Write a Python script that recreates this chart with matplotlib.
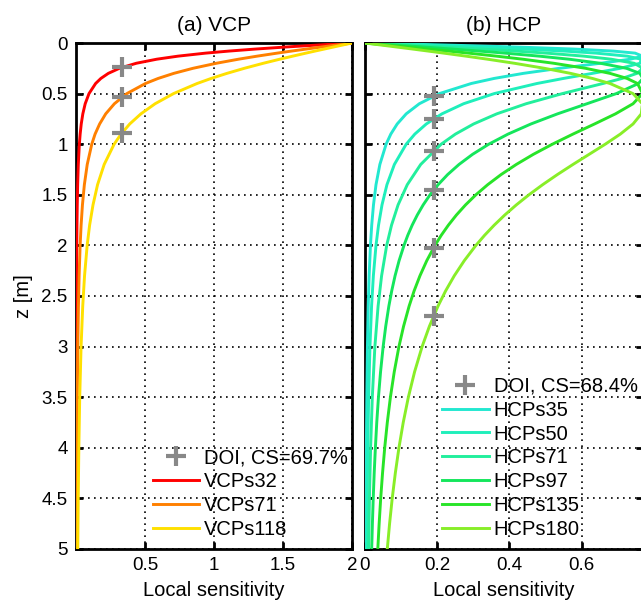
import matplotlib
matplotlib.use('Agg')
import matplotlib.pyplot as plt
import numpy as np

# depth grid (m)
z = [0, 0.02, 0.04, 0.06, 0.08, 0.1, 0.13, 0.16, 0.2, 0.25, 0.3, 0.35, 0.4, 0.5, 0.6, 0.7,
     0.8, 0.9, 1.0, 1.2, 1.4, 1.6, 1.8, 2.0, 2.3, 2.6, 3.0, 3.5, 4.0, 4.5, 5.0]
# finer depth grid for the wide HCP curves
z_fine = [0, 0.02, 0.04, 0.06, 0.08, 0.1, 0.13, 0.16, 0.2, 0.25, 0.3, 0.35, 0.4, 0.5, 0.6, 0.7,
          0.8, 0.9, 1.0, 1.1, 1.2, 1.3, 1.4, 1.5, 1.6, 1.7, 1.8, 1.9, 2.0, 2.15, 2.3, 2.45,
          2.6, 2.8, 3.0, 3.25, 3.5, 3.75, 4.0, 4.25, 4.5, 4.75, 5.0]

# (a) VCP local sensitivity
vcp_names = ['VCPs32', 'VCPs71', 'VCPs118']
vcp_s32 = [2.0, 1.752, 1.515, 1.298, 1.106, 0.940, 0.739, 0.586, 0.438, 0.315, 0.235, 0.181, 0.143,
           0.095, 0.0675, 0.0503, 0.0388, 0.0309, 0.0251, 0.0175, 0.0129, 0.0099, 0.0078, 0.0064,
           0.00484, 0.00379, 0.00284, 0.00209, 0.0016, 0.00126, 0.00102]
vcp_s71 = [2.0, 1.887, 1.776, 1.667, 1.560, 1.458, 1.312, 1.178, 1.018, 0.848, 0.709, 0.596, 0.504,
           0.369, 0.279, 0.216, 0.172, 0.139, 0.115, 0.0822, 0.0614, 0.0475, 0.0378, 0.0308,
           0.0234, 0.0184, 0.0139, 0.0102, 0.00783, 0.0062, 0.00502]
vcp_s118 = [2.0, 1.932, 1.865, 1.798, 1.731, 1.666, 1.570, 1.477, 1.358, 1.220, 1.094, 0.980, 0.878,
            0.707, 0.574, 0.471, 0.390, 0.327, 0.277, 0.205, 0.157, 0.124, 0.0995, 0.0817,
            0.0627, 0.0496, 0.0376, 0.0278, 0.0214, 0.0170, 0.0138]
vcp_colors = ['#ff0000', '#ff8000', '#ffe000']
vcp_doi_x = [0.336, 0.336, 0.336]
vcp_doi_z = [0.24, 0.5325, 0.885]

# (b) HCP local sensitivity
hcp_names = ['HCPs35', 'HCPs50', 'HCPs71', 'HCPs97', 'HCPs135', 'HCPs180']
hcp_s35 = [0, 0.2242, 0.4235, 0.5804, 0.6878, 0.7480, 0.7685, 0.7351, 0.6527, 0.5388, 0.4386,
           0.3578, 0.2944, 0.2060, 0.1505, 0.1141, 0.0892, 0.0715, 0.0585, 0.0412, 0.0305,
           0.0235, 0.01864, 0.01514, 0.01148, 0.0090, 0.00677, 0.00498, 0.00382, 0.00302, 0.00245]
hcp_s50 = [0, 0.1585, 0.3081, 0.4413, 0.5529, 0.6403, 0.7263, 0.7648, 0.7618, 0.7071, 0.6297,
           0.5498, 0.4764, 0.3578, 0.2731, 0.2131, 0.1698, 0.1380, 0.1141, 0.0814, 0.0608,
           0.0471, 0.0375, 0.0305, 0.0232, 0.01824, 0.01375, 0.01013, 0.00777, 0.00614, 0.00498]
hcp_s71 = [0, 0.1121, 0.2211, 0.3240, 0.4184, 0.5024, 0.6064, 0.6818, 0.7452, 0.7698, 0.7531,
           0.7120, 0.6591, 0.5465, 0.4463, 0.3649, 0.3008, 0.2505, 0.2109, 0.1543, 0.1171,
           0.0916, 0.0735, 0.0601, 0.0460, 0.0363, 0.0274, 0.02026, 0.01557, 0.01233, 0.01001]
hcp_s97 = [0, 0.0823, 0.1633, 0.2419, 0.3169, 0.3874, 0.4831, 0.5651, 0.6516, 0.7240, 0.7610,
           0.7696, 0.7574, 0.6959, 0.6147, 0.5332, 0.4596, 0.3962, 0.3427,
           0.2979, 0.2604, 0.2289, 0.2025, 0.1801, 0.1611, 0.1448, 0.1307, 0.1185, 0.1080,
           0.0945, 0.0833, 0.0740, 0.0661, 0.0574, 0.0503, 0.0431, 0.0373, 0.0326, 0.0288,
           0.0255, 0.02283, 0.02053, 0.01856]
hcp_s135 = [0, 0.0592, 0.1179, 0.1757, 0.2319, 0.2868, 0.3647, 0.4368, 0.5223, 0.6108, 0.6783,
            0.7256, 0.7546, 0.7687, 0.7423, 0.6937, 0.6357, 0.5760, 0.5189,
            0.4663, 0.4190, 0.3769, 0.3398, 0.3071, 0.2784, 0.2531, 0.2309, 0.2112, 0.1938,
            0.1712, 0.1522, 0.1360, 0.1222, 0.1068, 0.0940, 0.0810, 0.0704, 0.0618, 0.0546,
            0.0486, 0.0435, 0.0392, 0.0355]
hcp_s180 = [0, 0.0444, 0.0886, 0.1325, 0.1757, 0.2182, 0.2801, 0.3393, 0.4134, 0.4969, 0.5692,
            0.6297, 0.6783, 0.7422, 0.7680, 0.7651, 0.7423, 0.7071, 0.6653,
            0.6207, 0.5760, 0.5328, 0.4920, 0.4540, 0.4190, 0.3870, 0.3578, 0.3312, 0.3071,
            0.2751, 0.2473, 0.2232, 0.2022, 0.1783, 0.1582, 0.1373, 0.1201, 0.1059, 0.0940,
            0.0840, 0.0754, 0.0681, 0.0618]
hcp_colors = ['#22e8d0', '#1fefbb', '#22ef9c', '#14e65c', '#28e428', '#88ee28']
hcp_doi_x = [0.19, 0.19, 0.19, 0.19, 0.19, 0.19]
hcp_doi_z = [0.525, 0.75, 1.065, 1.455, 2.025, 2.7]

plt.rcParams['font.family'] = ['Liberation Sans', 'DejaVu Sans']
plt.rcParams['font.size'] = 14

fig = plt.figure(figsize=(6.41, 6.04), dpi=100)
ax1 = fig.add_axes([0.1186, 0.0911, 0.4306, 0.8377])
ax2 = fig.add_axes([0.5694, 0.0911, 0.4337, 0.8377])

grid_kw = dict(color='black', linewidth=1.2, linestyle=(0, (1, 2.6)))


def style_axis(ax):
    for sp in ax.spines.values():
        sp.set_linewidth(2)
    ax.tick_params(direction='in', length=5, width=2, top=True, right=True, labelsize=13.5, pad=6)
    ax.grid(True, **grid_kw)
    ax.set_axisbelow(False)
    ax.set_ylim(5, 0)
    ax.set_yticks(np.arange(0, 5.01, 0.5))
    ax.set_xlabel('Local sensitivity', fontsize=14.5, labelpad=5)


leg_kw = dict(frameon=False, fontsize=14.5, handlelength=2.3, handletextpad=0.25,
              labelspacing=0.24, borderaxespad=0.0, borderpad=0.2)

# VCP panel
vcp_data = [vcp_s32, vcp_s71, vcp_s118]
ax1.plot(vcp_doi_x, vcp_doi_z, '+', color='#888888', markersize=14, markeredgewidth=3,
         label='DOI, CS=69.7%', zorder=4)
for vals, name, col in zip(vcp_data, vcp_names, vcp_colors):
    ax1.plot(vals, z, color=col, linewidth=2.1, label=name, zorder=3)
style_axis(ax1)
ax1.set_xlim(min(min(v) for v in vcp_data), 2)
ax1.set_xticks([0.5, 1, 1.5, 2])
ax1.set_xticklabels(['0.5', '1', '1.5', '2'])
ax1.set_yticklabels(['0', '0.5', '1', '1.5', '2', '2.5', '3', '3.5', '4', '4.5', '5'])
ax1.set_ylabel('z [m]', fontsize=14.5, labelpad=6)
ax1.set_title('(a) VCP', fontsize=15, pad=9)
ax1.legend(loc='lower right', bbox_to_anchor=(1.0, 0.012), **leg_kw)

# HCP panel
hcp_data = [hcp_s35, hcp_s50, hcp_s71, hcp_s97, hcp_s135, hcp_s180]
hcp_z = [z, z, z, z_fine, z_fine, z_fine]
ax2.plot(hcp_doi_x, hcp_doi_z, '+', color='#888888', markersize=14, markeredgewidth=3,
         label='DOI, CS=68.4%', zorder=4)
for vals, zz, name, col in zip(hcp_data, hcp_z, hcp_names, hcp_colors):
    ax2.plot(vals, zz, color=col, linewidth=2.1, label=name, zorder=3)
style_axis(ax2)
ax2.set_xlim(0, 0.7698)
ax2.set_xticks([0, 0.2, 0.4, 0.6])
ax2.set_xticklabels(['0', '0.2', '0.4', '0.6'])
ax2.set_yticklabels([])
ax2.set_title('(b) HCP', fontsize=15, pad=9)
ax2.legend(loc='lower right', bbox_to_anchor=(0.995, 0.012), **leg_kw)

fig.savefig('out.png', dpi=100)
